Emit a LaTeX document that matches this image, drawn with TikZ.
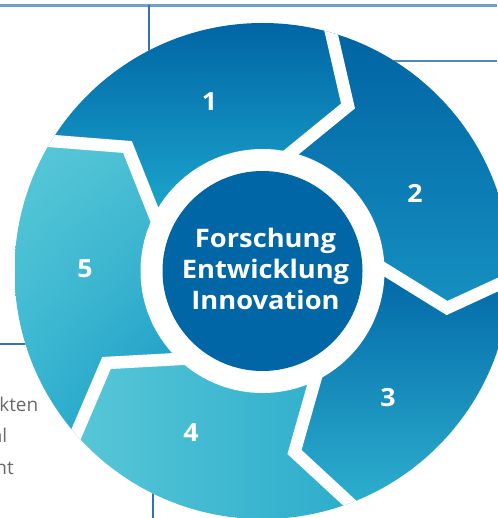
\documentclass[tikz,border=0pt]{standalone}
\usepackage{fontspec}
\setmainfont{Open Sans}
\newfontfamily\widefont[FakeStretch=1.07]{Open Sans}
\usetikzlibrary{calc,shadings}
\definecolor{dk}{RGB}{0,102,166}
\definecolor{sA}{RGB}{0,100,164}
\definecolor{sAm}{RGB}{3,114,173}
\definecolor{sAb}{RGB}{28,168,206}
\definecolor{sBt}{RGB}{0,98,162}
\definecolor{sBb}{RGB}{22,146,194}
\definecolor{sCt}{RGB}{0,102,166}
\definecolor{sCb}{RGB}{46,176,207}
\definecolor{sDl}{RGB}{87,199,215}
\definecolor{sDr}{RGB}{44,172,204}
\definecolor{sEul}{RGB}{90,201,216}
\definecolor{sEur}{RGB}{72,190,211}
\definecolor{sEll}{RGB}{52,180,208}
\definecolor{sElr}{RGB}{20,150,195}
\definecolor{lnTop}{RGB}{110,160,205}
\definecolor{lnA}{RGB}{50,115,175}
\definecolor{lnB}{RGB}{80,135,190}
\definecolor{txtgray}{RGB}{105,105,105}
\begin{document}
\begin{tikzpicture}[x=1pt,y=1pt,
  num/.style={text=white,font=\widefont\fontsize{25}{25}\selectfont\bfseries,inner sep=0pt},
  gapline/.style={white,line width=12.5pt,line join=miter,miter limit=10},
  thinline/.style={lnA,line width=1.2pt},
  lefttxt/.style={text=txtgray,font=\fontsize{19}{19}\selectfont,inner sep=0pt,anchor=base east}]
\useasboundingbox (0,0) rectangle (497,-518);
\coordinate (C) at (262.5,-271);
% background lines
\draw[lnTop,line width=2.2pt] (0,-5.5) -- (497,-5.5);
\draw[thinline] (149,-5.5) -- (149,-80);
\draw[lnB,line width=1.6pt] (370,-61) -- (497,-61);
\draw[thinline] (0,-344) -- (60,-344);
\draw[thinline] (153,-470) -- (153,-518);
\fill[white] (C) circle (248);
% gap points
\coordinate (O12) at (331,-32);   \coordinate (T12) at (348,-106);  \coordinate (I12) at (293.5,-150.5);
\coordinate (O23) at (497,-285);  \coordinate (T23) at (447,-308);  \coordinate (I23) at (384,-269);
\coordinate (O34) at (347.8,-501.3); \coordinate (T34) at (294.5,-452); \coordinate (I34) at (315,-380);
\coordinate (O45) at (77,-432);   \coordinate (T45) at (106.5,-363); \coordinate (I45) at (179,-359);
\coordinate (O51) at (51.5,-141); \coordinate (T51) at (127.5,-147); \coordinate (I51) at (153.5,-212.5);
\foreach \g in {12,23,34,45,51}{
  \coordinate (O\g x) at ($(T\g)!1.3!(O\g)$);
  \coordinate (I\g x) at ($(T\g)!1.4!(I\g)$);
}
\begin{scope}
\clip (C) circle (248);
% segment 1
\begin{scope}
\clip (C) -- (I51x) -- (T51) -- (O51x) -- ($(C)+(148.4:400)$) arc[start angle=148.4,end angle=74,radius=400] -- (O12x) -- (T12) -- (I12x) -- cycle;
\shade[top color=sA,middle color=sAm,bottom color=sAb] (30,-20) rectangle (370,-220);
\end{scope}
% segment 2
\begin{scope}
\clip (C) -- (I12x) -- (T12) -- (O12x) -- ($(C)+(74:400)$) arc[start angle=74,end angle=-3.4,radius=400] -- (O23x) -- (T23) -- (I23x) -- cycle;
\shade[top color=sBt,bottom color=sBb] (280,-22) rectangle (520,-318);
\end{scope}
% segment 3
\begin{scope}
\clip (C) -- (I23x) -- (T23) -- (O23x) -- ($(C)+(-3.4:400)$) arc[start angle=-3.4,end angle=-69.7,radius=400] -- (O34x) -- (T34) -- (I34x) -- cycle;
\shade[top color=sCt,bottom color=sCb] (280,-265) rectangle (520,-508);
\end{scope}
% segment 4
\begin{scope}
\clip (C) -- (I34x) -- (T34) -- (O34x) -- ($(C)+(-69.7:400)$) arc[start angle=-69.7,end angle=-139,radius=400] -- (O45x) -- (T45) -- (I45x) -- cycle;
\shade[left color=sDl,right color=sDr] (75,-350) rectangle (355,-520);
\end{scope}
% segment 5
\begin{scope}
\clip (C) -- (I45x) -- (T45) -- (O45x) -- ($(C)+(221:400)$) arc[start angle=221,end angle=148.4,radius=400] -- (O51x) -- (T51) -- (I51x) -- cycle;
\shade[upper left=sEul,upper right=sEur,lower left=sEll,lower right=sElr] (15,-140) rectangle (185,-435);
\end{scope}
% white gaps
\foreach \g in {12,23,34,45,51}{
  \draw[gapline] (O\g x) -- (T\g) -- (I\g x);
}
\end{scope}
\fill[white] (C) circle (122);
\fill[dk] (C) circle (100);
\node[text=white,font=\widefont\fontsize{25.5}{31}\selectfont\bfseries,align=center,inner sep=0pt] (ctr) at (265.5,-269) {Forschung\\Entwicklung\\Innovation};
\node[num] (n1) at (209.5,-102) {1};
\node[num] (n2) at (415,-193) {2};
\node[num] (n3) at (388,-397.5) {3};
\node[num] (n4) at (191,-433) {4};
\node[num] (n5) at (85,-268.5) {5};
\node[lefttxt] (t1) at (38.5,-411) {kten};
\node[lefttxt] (t2) at (7.5,-442) {al};
\node[lefttxt] (t3) at (14,-474) {nt};
\end{tikzpicture}
\end{document}
